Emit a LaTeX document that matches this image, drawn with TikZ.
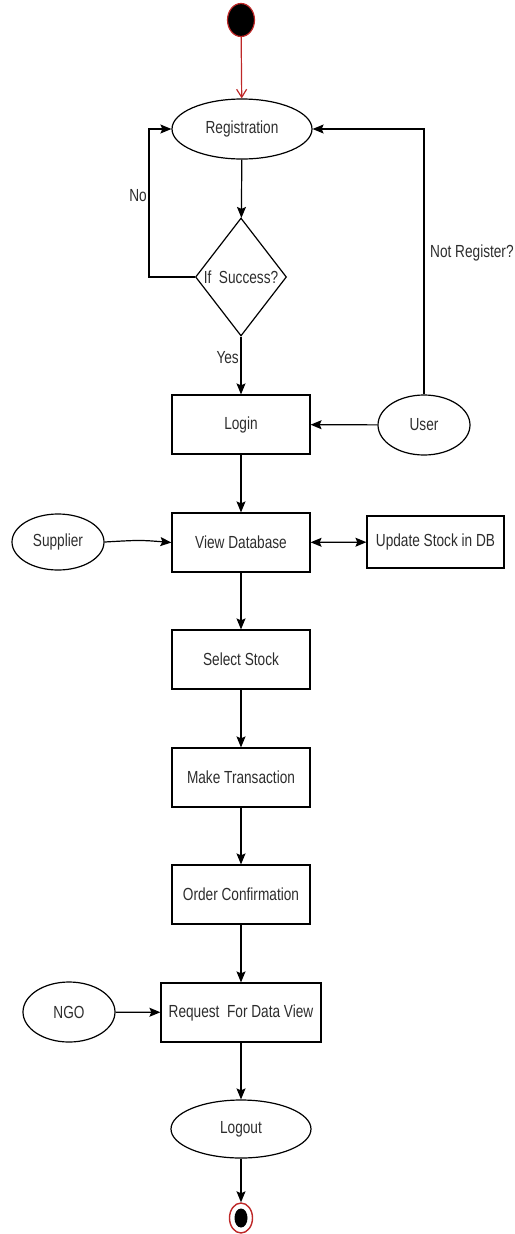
\documentclass[tikz,border=0pt]{standalone}
\usepackage{fontspec}
\usepackage{graphicx}
\setmainfont{Liberation Sans}
\usetikzlibrary{shapes.geometric,arrows.meta}
\definecolor{txt}{RGB}{45,45,45}
\definecolor{startred}{RGB}{190,40,40}
\newcommand\lbl[1]{\scalebox{0.78}[1]{#1}}
\begin{document}
\begin{tikzpicture}[x=1pt,y=-1pt,
  every node/.style={font=\fontsize{17.5}{20}\selectfont, text=txt, inner sep=0pt},
  box/.style={draw=black, line width=1.2pt, rectangle, minimum width=138pt, minimum height=59pt},
  oval/.style={draw=black, line width=1.2pt, ellipse, minimum width=92pt, minimum height=60pt},
  dec/.style={draw=black, line width=1.2pt, diamond, minimum width=91pt, minimum height=118pt},
  flow/.style={line width=1.2pt, draw=black, -{Stealth[length=11pt,width=9pt,inset=2pt]}},
  both/.style={line width=1.2pt, draw=black, {Stealth[length=11pt,width=9pt,inset=2pt]}-{Stealth[length=11pt,width=9pt,inset=2pt]}},
  lab/.style={font=\fontsize{17.5}{20}\selectfont, text=txt}
]
\useasboundingbox (0,0) rectangle (514,1234);

% start
\node[ellipse, fill=black, draw=startred, line width=1.2pt, minimum width=27pt, minimum height=33pt] (start) at (241,20) {};

% nodes
\node[oval, minimum width=140pt] (reg) at (242,129) {\lbl{Registration}};
\node[dec] (dia) at (241,277) {\lbl{If\ \ Success?}};
\node[box] (login) at (241,424.5) {\lbl{Login}};
\node[oval] (user) at (424,425) {\lbl{User}};
\node[box] (view) at (241,542.5) {\lbl{View Database}};
\node[oval, minimum height=56pt] (supp) at (58,542) {\lbl{Supplier}};
\node[box, minimum width=137pt, minimum height=52pt] (upd) at (435.5,542) {\lbl{Update Stock in DB}};
\node[box] (sel) at (241,659.5) {\lbl{Select Stock}};
\node[box] (make) at (241,777.5) {\lbl{Make Transaction}};
\node[box] (order) at (241,894.5) {\lbl{Order Confirmation}};
\node[box, minimum width=160pt] (req) at (241,1012.5) {\lbl{Request\ \ For Data View}};
\node[oval] (ngo) at (69,1012) {\lbl{NGO}};
\node[oval, minimum width=140pt, minimum height=58pt] (logout) at (241,1129) {\lbl{Logout}};

% end
\node[ellipse, draw=startred, line width=1.4pt, fill=white, minimum width=23pt, minimum height=30pt] (endo) at (241,1218) {};
\node[ellipse, fill=black, minimum width=13pt, minimum height=19pt] (endi) at (241,1218) {};

% labels
\node[lab, anchor=center] (no) at (138,196) {\lbl{No}};
\node[lab, anchor=east] (yes) at (239,358) {\lbl{Yes}};
\node[lab, anchor=west] (notreg) at (430,253) {\lbl{Not Register?}};

% connectors
\draw[line width=1.2pt, draw=startred, -{Straight Barb[length=8pt,width=10pt]}] (start) -- (reg);
\draw[flow] (reg) -- (dia);
\draw[flow] (dia.west) -- ++(-46,0) |- (reg.west);
\draw[flow] (dia) -- (login);
\draw[flow] (user) -- (login);
\draw[flow] (user.north) |- (reg.east);
\draw[flow] (login) -- (view);
\draw[flow] (supp.east) .. controls (140,540) .. (view.west);
\draw[both] (view) -- (upd);
\draw[flow] (view) -- (sel);
\draw[flow] (sel) -- (make);
\draw[flow] (make) -- (order);
\draw[flow] (order) -- (req);
\draw[flow] (ngo) -- (req);
\draw[flow] (req) -- (logout);
\draw[flow] (logout) -- (endo);
\end{tikzpicture}
\end{document}
